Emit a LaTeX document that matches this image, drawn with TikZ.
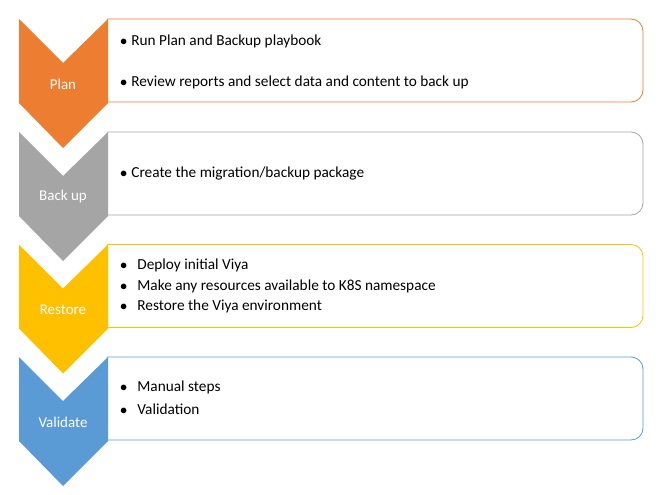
\documentclass[tikz,border=0pt]{standalone}
\usepackage{fontspec}
\setmainfont{Carlito}
\usetikzlibrary{positioning}
\definecolor{planc}{HTML}{ED7D31}
\definecolor{backc}{HTML}{A5A5A5}
\definecolor{restc}{HTML}{FFC000}
\definecolor{valc}{HTML}{5B9BD5}
\tikzset{
  stepbox/.style={draw=#1,line width=0.8pt,rounded corners=12pt},
  chevron/.style={fill=#1,draw=none},
  steplabel/.style={text=white,font=\fontsize{15}{17}\selectfont},
  item/.style={anchor=west,font=\fontsize{15.3}{18}\selectfont,inner sep=0pt}
}
\begin{document}
\begin{tikzpicture}[x=1pt,y=-1pt]
 \useasboundingbox (0,0) rectangle (662,495);
 \foreach \c/\t/\y in {planc/Plan/19, backc/Back up/132, restc/Restore/244.5, valc/Validate/357}{
   \draw[stepbox=\c] (107,\y) -- (643,\y) -- (643,\y+83) -- (107,\y+83);
   \fill[chevron=\c] (19,\y) -- (63,\y+44) -- (108,\y) -- (108,\y+84) -- (63,\y+129) -- (19,\y+84) -- cycle;
   \node[steplabel] (lab) at (63,\y+65) {\t};
 }
 % Plan
 \node[item] (p1) at (120,41) {$\bullet$\hspace{4pt}Run Plan and Backup playbook};
 \node[item] (p2) at (120,82) {$\bullet$\hspace{4pt}Review reports and select data and content to back up};
 % Back up
 \node[item] (b1) at (120,174) {$\bullet$\hspace{4pt}Create the migration/backup package};
 % Restore
 \node[item] (r1) at (120,265) {$\bullet$\hspace{10pt}Deploy initial Viya};
 \node[item] (r2) at (120,286) {$\bullet$\hspace{10pt}Make any resources available to K8S namespace};
 \node[item] (r3) at (120,306) {$\bullet$\hspace{10pt}Restore the Viya environment};
 % Validate
 \node[item] (v1) at (120,387) {$\bullet$\hspace{10pt}Manual steps};
 \node[item] (v2) at (120,409) {$\bullet$\hspace{10pt}Validation};
\end{tikzpicture}
\end{document}
